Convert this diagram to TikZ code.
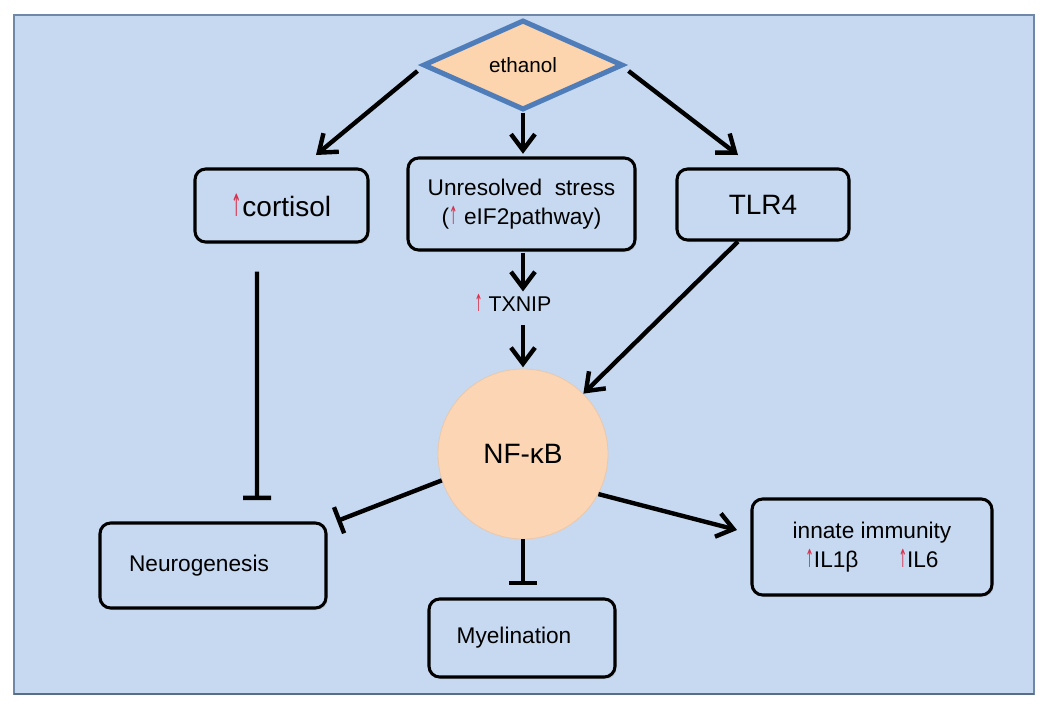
\documentclass[tikz,border=0pt]{standalone}
\usepackage{fontspec}
\setmainfont{Liberation Sans}
\newfontfamily\symf{DejaVu Sans}
\usetikzlibrary{arrows.meta,shapes.geometric,shadows}
\definecolor{bgc}{HTML}{C6D9F0}
\definecolor{panelb}{HTML}{7088A8}
\definecolor{peach}{HTML}{FCD5AF}
\definecolor{peachc}{HTML}{FCD5B4}
\definecolor{dblue}{HTML}{4F7DBA}
\definecolor{upred}{HTML}{D8304C}
\newcommand\upar{{\color{upred}\symf\scalebox{0.45}[1.1]{↑}}}
\begin{document}
\begin{tikzpicture}[x=0.75pt,y=-0.75pt,
  box/.style={draw=black, line width=2.3pt, rounded corners=8pt, fill=bgc, align=center, inner sep=0pt,
    drop shadow={opacity=0.18, shadow xshift=1.2pt, shadow yshift=-1.5pt}},
  arr/.style={line width=3.3pt, -{Straight Barb[length=12pt,width=18pt]}},
  inh/.style={line width=3.3pt, -{Bar[width=21pt]}},
  lbl/.style={font=\fontsize{17}{22}\selectfont}
]
\useasboundingbox (0,0) rectangle (1050,708);
\fill[white] (0,0) rectangle (1050,708);
\draw[panelb, line width=1.5pt, fill=bgc] (13.5,15) rectangle (1033.5,694);
\draw[panelb!80!black, line width=2pt] (13.5,694) -- (1033.5,694);

% nodes
\node[diamond, draw=dblue, line width=3.8pt, fill=peach, minimum width=150pt, minimum height=67.5pt, inner sep=0pt,
      font=\fontsize{15.5}{18}\selectfont] (eth) at (523,65) {ethanol};
\node[box, minimum width=129.75pt, minimum height=54.75pt, font=\fontsize{21}{24}\selectfont] (cort) at (281.5,205.5) {\upar cortisol};
\node[box, lbl, minimum width=170.25pt, minimum height=69pt] (stress) at (521.5,204) {Unresolved\ \ stress\\(\upar{} eIF2pathway)};
\node[box, minimum width=129pt, minimum height=53.25pt, font=\fontsize{21}{24}\selectfont] (tlr) at (763,204.5) {TLR4};
\node[font=\fontsize{16}{18}\selectfont, inner sep=2pt] (txnip) at (513,303) {\upar{} TXNIP};
\node[circle, fill=peachc, draw=peachc!85!gray, line width=0.6pt, minimum size=127.5pt, inner sep=0pt,
      font=\fontsize{21}{24}\selectfont] (nf) at (523,454) {NF-κB};
\node[box, lbl, minimum width=169.5pt, minimum height=63.75pt] (neuro) at (213,565.5) {\hspace*{-21pt}Neurogenesis};
\node[box, lbl, minimum width=139.5pt, minimum height=58.5pt] (myel) at (522,638) {\hspace*{-12pt}Myelination};
\node[box, lbl, minimum width=180pt, minimum height=72pt] (innate) at (872,547) {innate immunity\\\upar IL1β\hspace{30pt}\upar IL6};

% free ends
\coordinate (c1) at (316,155);
\coordinate (c2) at (738,155);
\coordinate (c3) at (737,530);
\coordinate (c4) at (337,521);
\coordinate (c5) at (523,585);
\coordinate (c6) at (257,500);

% connectors
\draw[arr] ([shift={(-3,6)}]eth.west) -- (c1);
\draw[arr, shorten >=2pt] (eth.south) -- (stress.north -| eth.south);
\draw[arr] ([shift={(3,6)}]eth.east) -- (c2);
\draw[arr, shorten <=1pt] (stress.south -| nf.north) -- (txnip.north -| nf.north);
\draw[arr, shorten <=8pt, shorten >=1pt] (txnip.south -| nf.north) -- (nf.north);
\draw[arr] ([xshift=-18.75pt]tlr.south) -- (nf.45);
\draw[arr] (nf.-28) -- (c3);
\draw[inh] (nf.198) -- (c4);
\draw[inh] (nf.south) -- (c5);
\draw[inh, shorten <=21pt] ([xshift=-18.4pt]cort.south) -- (c6);
\end{tikzpicture}
\end{document}
